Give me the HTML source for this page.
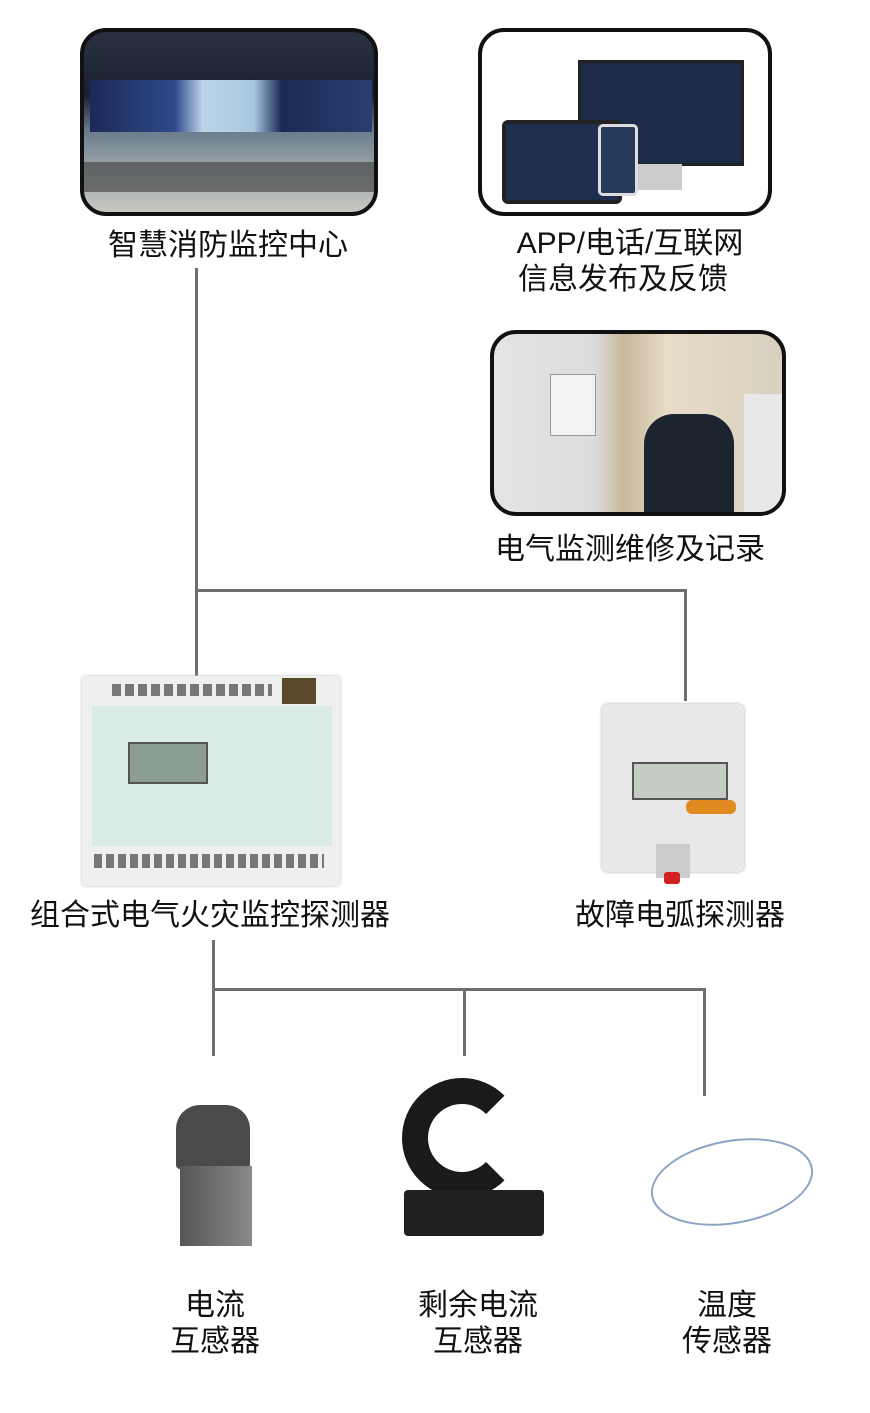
<!DOCTYPE html>
<html><head><meta charset="utf-8"><style>
body{margin:0;width:870px;height:1413px;background:#fff;position:relative;overflow:hidden;font-family:"Liberation Sans","Noto Sans CJK SC",sans-serif;color:#111}
.a{position:absolute}
.box{position:absolute;border:4px solid #111;border-radius:26px;overflow:hidden;box-sizing:border-box}
.t{position:absolute;font-size:30px;white-space:nowrap;text-align:center;line-height:36px}
.l{position:absolute;background:#6e6e6e}
</style></head><body>
<div class="box" style="left:80px;top:28px;width:298px;height:188px;background:linear-gradient(#2a3140 0,#1a2030 35%,#6a7c8c 55%,#9aa4a8 75%,#c8c8c0 100%)">
 <div class="a" style="left:6px;top:48px;width:282px;height:52px;background:linear-gradient(90deg,#1b2a55,#2e4a8a 30%,#bcd4e8 40%,#a8c8e0 58%,#1b2a55 68%,#2a3e70)"></div>
 <div class="a" style="left:0;top:130px;width:290px;height:30px;background:#3a3a3a;opacity:.6"></div>
</div>
<div class="box" style="left:478px;top:28px;width:294px;height:188px;background:#fff">
 <div class="a" style="left:96px;top:28px;width:160px;height:100px;background:#1e2c4a;border:3px solid #222"></div>
 <div class="a" style="left:150px;top:132px;width:50px;height:26px;background:#ccc"></div>
 <div class="a" style="left:20px;top:88px;width:112px;height:76px;background:#1f2e4e;border:4px solid #222;border-radius:6px"></div>
 <div class="a" style="left:116px;top:92px;width:34px;height:66px;background:#263a5c;border:3px solid #ddd;border-radius:5px"></div>
</div>
<div class="t" style="left:78px;top:228px;width:300px">智慧消防监控中心</div>
<div class="t" style="left:480px;top:226px;width:300px">APP/电话/互联网</div>
<div class="t" style="left:473px;top:262px;width:300px">信息发布及反馈</div>
<div class="box" style="left:490px;top:330px;width:296px;height:186px;background:linear-gradient(90deg,#e4e4e4 0,#dcdcdc 35%,#c8b89a 45%,#e6dcc8 60%,#d8d0c0 100%)">
 <div class="a" style="left:56px;top:40px;width:44px;height:60px;background:#f2f2f2;border:1px solid #999"></div>
 <div class="a" style="left:150px;top:80px;width:90px;height:102px;background:#1c2430;border-radius:30px 30px 0 0"></div>
 <div class="a" style="left:250px;top:60px;width:46px;height:120px;background:#e8e8e8"></div>
</div>
<div class="t" style="left:480px;top:532px;width:300px">电气监测维修及记录</div>
<div class="l" style="left:195px;top:268px;width:3px;height:410px"></div>
<div class="l" style="left:195px;top:589px;width:492px;height:3px"></div>
<div class="l" style="left:684px;top:589px;width:3px;height:112px"></div>
<div class="a" style="left:82px;top:676px;width:258px;height:210px;background:#eef0ee;border-radius:4px;box-shadow:0 0 3px #bbb">
 <div class="a" style="left:10px;top:30px;width:240px;height:140px;background:#d9ebe6"></div>
 <div class="a" style="left:46px;top:66px;width:76px;height:38px;background:#8c9e94;border:2px solid #555"></div>
 <div class="a" style="left:200px;top:2px;width:34px;height:26px;background:#5a4a2a"></div>
 <div class="a" style="left:12px;top:178px;width:230px;height:14px;background:repeating-linear-gradient(90deg,#777 0 8px,#eee 8px 12px)"></div>
 <div class="a" style="left:30px;top:8px;width:160px;height:12px;background:repeating-linear-gradient(90deg,#777 0 9px,#eee 9px 13px)"></div>
</div>
<div class="a" style="left:602px;top:704px;width:142px;height:168px;background:#e8e8e8;border-radius:6px;box-shadow:0 0 3px #aaa">
 <div class="a" style="left:30px;top:58px;width:92px;height:34px;background:#c4ccc4;border:2px solid #555"></div>
 <div class="a" style="left:84px;top:96px;width:50px;height:14px;background:#e08a20;border-radius:6px"></div>
 <div class="a" style="left:54px;top:140px;width:34px;height:34px;background:#ccc"></div>
 <div class="a" style="left:62px;top:168px;width:16px;height:12px;background:#d02020;border-radius:3px"></div>
</div>
<div class="t" style="left:10px;top:898px;width:400px">组合式电气火灾监控探测器</div>
<div class="t" style="left:560px;top:898px;width:240px">故障电弧探测器</div>
<div class="l" style="left:212px;top:940px;width:3px;height:116px"></div>
<div class="l" style="left:212px;top:988px;width:494px;height:3px"></div>
<div class="l" style="left:463px;top:988px;width:3px;height:68px"></div>
<div class="l" style="left:703px;top:988px;width:3px;height:108px"></div>
<div class="a" style="left:176px;top:1105px;width:74px;height:64px;background:#4a4a4a;border-radius:24px 24px 4px 4px"></div>
<div class="a" style="left:180px;top:1166px;width:72px;height:80px;background:linear-gradient(90deg,#555,#8a8a8a)"></div>
<div class="a" style="left:402px;top:1078px;width:120px;height:120px;border:26px solid #1a1a1a;border-radius:50%;box-sizing:border-box;border-right-color:transparent"></div>
<div class="a" style="left:404px;top:1190px;width:140px;height:46px;background:#202020;border-radius:4px"></div>
<div class="a" style="left:650px;top:1140px;width:160px;height:80px;border:2px solid #8aa4c4;border-radius:50%;transform:rotate(-10deg)"></div>
<div class="t" style="left:140px;top:1288px;width:150px">电流</div>
<div class="t" style="left:140px;top:1324px;width:150px">互感器</div>
<div class="t" style="left:398px;top:1288px;width:160px">剩余电流</div>
<div class="t" style="left:398px;top:1324px;width:160px">互感器</div>
<div class="t" style="left:650px;top:1288px;width:154px">温度</div>
<div class="t" style="left:650px;top:1324px;width:154px">传感器</div>
</body></html>
